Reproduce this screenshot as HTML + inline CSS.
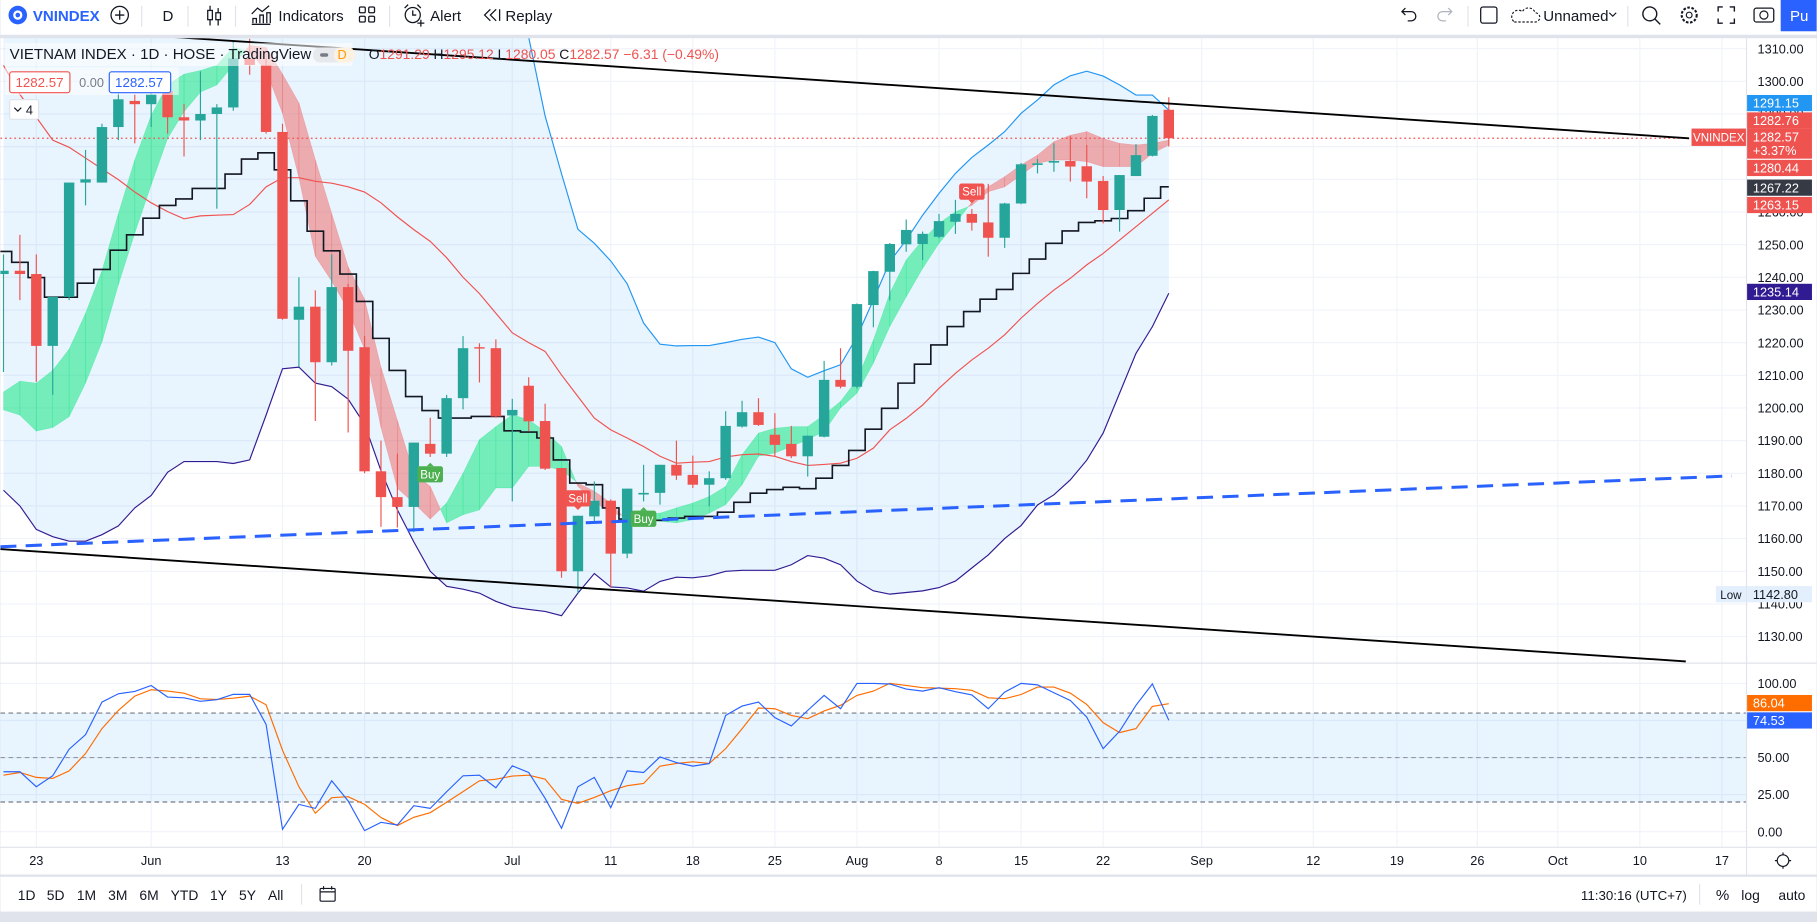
<!DOCTYPE html>
<html><head><meta charset="utf-8">
<style>
html,body{margin:0;padding:0;background:#e0e3eb;overflow:hidden}
svg{display:block;font-family:"Liberation Sans",sans-serif}
</style></head>
<body>
<svg id="root" width="1817" height="922" viewBox="0 0 1568 796" xmlns="http://www.w3.org/2000/svg">
<defs>
<clipPath id="mainClip"><rect x="0" y="33" width="1507" height="539"/></clipPath>
<clipPath id="stochClip"><rect x="0" y="573" width="1507" height="158"/></clipPath>
</defs>
<rect x="0" y="0" width="1568" height="796" fill="#e0e3eb"/>
<rect x="0" y="0" width="1568" height="30" fill="#ffffff"/>
<rect x="0" y="33" width="1568" height="722" fill="#ffffff"/>
<rect x="0" y="757" width="1568" height="30" fill="#ffffff"/>

<g><circle cx="15" cy="13" r="8" fill="#2962ff"/><circle cx="15" cy="13" r="4" fill="#fff"/><circle cx="15" cy="13" r="2" fill="#2962ff"/></g>
<text x="28" y="18" font-size="13" font-weight="bold" fill="#2962ff">VNINDEX</text>
<g><circle cx="103" cy="13" r="7.5" fill="none" stroke="#131722" stroke-width="1.1"/><path d="M99 13h8M103 9v8" stroke="#131722" stroke-width="1.1"/></g>
<line x1="122" y1="5" x2="122" y2="23" stroke="#e0e3eb"/>
<text x="140" y="18" font-size="13" fill="#131722">D</text>
<line x1="162" y1="5" x2="162" y2="23" stroke="#e0e3eb"/>
<g stroke="#131722" fill="none" stroke-width="1.1"><path d="M181 5v17M188 7v15"/><rect x="179" y="9" width="4" height="8" fill="#fff"/><rect x="186" y="11" width="4" height="6" fill="#fff"/></g>
<line x1="203" y1="5" x2="203" y2="23" stroke="#e0e3eb"/>
<g><path d="M217 21h16M218 20v-4h3v4M224 20v-7h3v7M230 20v-9h3v9M217 12l5-5 4 3 6-5" stroke="#131722" fill="none" stroke-width="1.1"/><text x="240" y="18" font-size="13" fill="#131722">Indicators</text></g>
<g stroke="#131722" fill="none" stroke-width="1.1"><rect x="310" y="6" width="5" height="5" rx="1"/><rect x="318" y="6" width="5" height="5" rx="1"/><rect x="310" y="14" width="5" height="5" rx="1"/><rect x="318" y="14" width="5" height="5" rx="1"/></g>
<line x1="336" y1="5" x2="336" y2="23" stroke="#e0e3eb"/>
<g><circle cx="356" cy="13" r="6.5" stroke="#131722" fill="none" stroke-width="1.1"/><path d="M356 9v4h3M349 7l3-3M363 7l-3-3M360 20h6M363 17v6" stroke="#131722" fill="none" stroke-width="1.1"/><text x="371" y="18" font-size="13" fill="#131722">Alert</text></g>
<g><path d="M423 8l-5 5 5 5M428 8l-5 5 5 5M431 8v10" stroke="#131722" fill="none" stroke-width="1.1"/><text x="436" y="18" font-size="13" fill="#131722">Replay</text></g>
<g><path d="M1210 10h8a4 4 0 0 1 0 8h-3M1213 7l-3 3 3 3" stroke="#131722" fill="none" stroke-width="1.1"/></g>
<g><path d="M1253 10h-8a4 4 0 0 0 0 8h3M1250 7l3 3-3 3" stroke="#b2b5be" fill="none" stroke-width="1.1"/></g>
<line x1="1267" y1="5" x2="1267" y2="23" stroke="#e0e3eb"/>
<rect x="1278" y="6" width="14" height="14" rx="2" fill="none" stroke="#131722" stroke-width="1.1"/>
<g><path d="M1307 19h18a4 4 0 0 0 0-8 6 6 0 0 0-11-1 4 4 0 0 0-7 9z" stroke="#131722" fill="none" stroke-width="1" stroke-dasharray="2 1.5"/><text x="1332" y="18" font-size="13" fill="#131722">Unnamed</text><path d="M1389 11l3 3 3-3" stroke="#131722" fill="none"/></g>
<line x1="1405" y1="5" x2="1405" y2="23" stroke="#e0e3eb"/>
<g><circle cx="1424" cy="12" r="6" fill="none" stroke="#131722" stroke-width="1.2"/><path d="M1428 16l5 5" stroke="#131722" stroke-width="1.2"/></g>
<g><circle cx="1458" cy="13" r="6.5" fill="none" stroke="#131722" stroke-width="1.8" stroke-dasharray="2.2 1.4"/><circle cx="1458" cy="13" r="2.5" fill="none" stroke="#131722"/></g>
<g><path d="M1483 10V6h4M1493 6h4v4M1497 16v4h-4M1487 20h-4v-4" stroke="#131722" fill="none" stroke-width="1.2"/></g>
<g><rect x="1514" y="7" width="17" height="12" rx="2" fill="none" stroke="#131722" stroke-width="1.1"/><circle cx="1522.5" cy="13" r="3.5" fill="none" stroke="#131722"/></g>
<g><rect x="1537" y="0" width="31" height="27" fill="#2962ff"/><text x="1545" y="18" font-size="13" fill="#fff">Pu</text></g>

<g id="grid"></g>
<g id="mainPane" clip-path="url(#mainClip)"></g>
<g id="stochPane" clip-path="url(#stochClip)"></g>
<line x1="0" y1="572.5" x2="1568" y2="572.5" stroke="#e0e3eb"/>
<line x1="1507.5" y1="33" x2="1507.5" y2="755" stroke="#e0e3eb"/>
<line x1="0" y1="731.5" x2="1568" y2="731.5" stroke="#e0e3eb"/>
<g id="axes"></g>

<g>
<rect x="4" y="37" width="300" height="20" fill="#ffffff" fill-opacity="0.55"/>
<text x="8" y="51" font-size="13" fill="#131722">VIETNAM INDEX · 1D · HOSE · TradingView</text>
<rect x="270" y="41" width="36" height="13" rx="6" fill="#e8e9ec"/>
<rect x="276" y="46" width="7" height="3" rx="1.5" fill="#787b86"/>
<rect x="288" y="41" width="18" height="13" rx="6" fill="#fdf1e1"/>
<text x="291" y="51" font-size="11" fill="#ff9800">D</text>
<text x="318" y="51" font-size="12" fill="#131722">O<tspan fill="#ef5350">1291.29</tspan> H<tspan fill="#ef5350">1295.12</tspan> L<tspan fill="#ef5350">1280.05</tspan> C<tspan fill="#ef5350">1282.57 −6.31 (−0.49%)</tspan></text>
<rect x="4" y="58" width="150" height="24" fill="#ffffff" fill-opacity="0.55"/>
<rect x="8" y="62" width="52" height="18" rx="2" fill="#fff" stroke="#ef5350"/>
<text x="13" y="75" font-size="11.5" fill="#ef5350">1282.57</text>
<text x="68" y="75" font-size="11" fill="#787b86">0.00</text>
<rect x="94" y="62" width="53" height="18" rx="2" fill="#fff" stroke="#2962ff"/>
<text x="99" y="75" font-size="11.5" fill="#2962ff">1282.57</text>
<rect x="8" y="86" width="25" height="17" rx="2" fill="#fff" stroke="#e0e3eb"/>
<path d="M12 93l3 3 3-3" stroke="#131722" fill="none"/>
<text x="22" y="99" font-size="11" fill="#131722">4</text>
</g>

<g font-size="12" fill="#131722">
<text x="15" y="777">1D</text>
<text x="40" y="777">5D</text>
<text x="66" y="777">1M</text>
<text x="93" y="777">3M</text>
<text x="120" y="777">6M</text>
<text x="147" y="777">YTD</text>
<text x="181" y="777">1Y</text>
<text x="206" y="777">5Y</text>
<text x="231" y="777">All</text>
</g>
<line x1="260" y1="763" x2="260" y2="781" stroke="#e0e3eb"/>
<g><rect x="276" y="767" width="13" height="11" rx="1" fill="none" stroke="#131722"/><path d="M276 770h13M279 765v3M286 765v3" stroke="#131722"/></g>
<text x="1456" y="777" font-size="11.5" fill="#131722" text-anchor="end">11:30:16 (UTC+7)</text>
<line x1="1467" y1="763" x2="1467" y2="781" stroke="#e0e3eb"/>
<text x="1481" y="777" font-size="13" fill="#131722">%</text>
<text x="1503" y="777" font-size="12" fill="#131722">log</text>
<text x="1535" y="777" font-size="12" fill="#131722">auto</text>
<g><circle cx="1539" cy="743" r="5" fill="none" stroke="#131722"/><path d="M1532 743h2M1544 743h2M1539 736v2M1539 748v2" stroke="#131722"/></g>

<script>
const firstIndex = -2;
const opens  = [1241,1242,1241,1219,1234,1269,1269,1286,1294,1293,1297,1289,1288,1290,1292,1307,1305,1284.5,1227,1231,1214,1237,1218.6,1180.6,1172.7,1169.7,1189,1186,1203,1218.6,1218.3,1197.7,1206.8,1196,1181.6,1150,1166.8,1171.6,1155.4,1173.5,1174,1182.6,1179.5,1176.5,1178.5,1194.3,1198.7,1191.8,1189,1185.2,1191.2,1208.6,1206.5,1231.5,1241.7,1250.1,1250.2,1252.4,1257,1259.4,1256.8,1252.1,1262.6,1274.4,1275.1,1275.6,1274,1269.5,1260.6,1271,1277.2,1291.29];
const highs  = [1247,1253,1247,1234,1269,1279,1287,1297,1296,1300,1298,1293,1303,1293,1312,1313,1307,1287,1240,1236,1247,1238,1222,1190,1186,1189.4,1197,1204,1222,1219.8,1221,1202.8,1209.4,1201.3,1181.6,1167,1177.5,1172,1175.3,1182.6,1182.6,1190,1185.4,1180.6,1199,1202.2,1203,1198.4,1194.5,1191.5,1214.4,1218.3,1232,1242,1250.5,1257.7,1254,1259.4,1263.7,1260.9,1268.6,1262.8,1275,1276.2,1281,1283.2,1280.5,1271,1271.3,1280.8,1289.7,1295.12];
const lows   = [1211,1233,1208,1204,1233,1262,1269,1282,1281,1286,1284,1277,1282,1261,1291,1302,1284,1227,1212.6,1196,1213,1192.5,1180,1163.6,1163.4,1162,1185,1185,1199.6,1207.8,1197,1171.4,1192.8,1181,1148,1143.3,1164.8,1145.2,1154,1171.4,1170.4,1178,1175.5,1169.9,1178,1194,1194.5,1185.2,1184.6,1179,1191,1206,1206,1224.7,1232.9,1247.8,1245.3,1252,1253.3,1254.3,1246.3,1249,1262.4,1271.8,1272.3,1269.3,1264.2,1256.5,1254,1271,1277,1280.05];
const closes = [1242,1241,1219,1234,1269,1270,1286,1294.5,1293,1296,1289,1288,1290,1292,1307,1305,1284.5,1227.3,1231,1214,1237,1217.5,1180.6,1172.7,1169.7,1189.4,1186,1203,1218.3,1218.2,1197.4,1199.4,1195.9,1181.4,1150,1167,1171.6,1155.4,1175.3,1174,1182.6,1179.3,1176.5,1178.5,1194.5,1198.7,1194.8,1188.7,1185.2,1191.5,1208.6,1206.5,1231.8,1241.9,1250.2,1254.5,1253.3,1257.2,1259.4,1256.7,1252.1,1262.6,1274.6,1274.9,1275.6,1273.9,1269.3,1260.6,1271.3,1277.4,1289.4,1282.57];
const bbUpper = [1330,1334,1338,1341,1343,1344,1345,1346,1347,1348,1349,1350,1351,1352,1353,1356,1360,1362,1364,1365,1366,1366,1365,1363,1360,1356,1351,1346,1341,1336,1332,1326,1313.5,1289.4,1271.7,1254.7,1250.4,1245,1238,1226,1219.5,1219,1219.1,1219.1,1220,1221,1221.7,1220,1212,1209.4,1211.4,1213.2,1221.8,1233.1,1244.8,1251.4,1259,1265.7,1271.8,1276.7,1280.5,1284.6,1290.2,1294.3,1298.9,1301.7,1303.1,1301.6,1298.9,1295.8,1295.8,1291.2];
const bbMiddle = [1304.9,1296,1289,1282,1279.8,1276.5,1273.2,1269.9,1266.1,1262.8,1260.1,1257.9,1258.8,1259,1259.2,1262.3,1267.7,1270.5,1270.5,1269.4,1268.8,1267.7,1266.1,1262.8,1258.5,1254.6,1251,1246,1240,1235,1229,1223,1220,1217.3,1210.1,1203.5,1196.9,1193.3,1190.8,1188.2,1185.2,1183.1,1183.4,1183.6,1185,1185.7,1185.9,1185.2,1183.6,1182.4,1182.7,1183.1,1184.6,1187.7,1193.3,1196.8,1200.9,1206,1210.6,1214.7,1218.3,1222.4,1227.5,1232,1236.1,1239.7,1243.8,1247.3,1251.4,1255.5,1259.6,1263.7];
const bbLower = [1174.8,1170,1162.8,1160.6,1159.2,1159.2,1161.2,1163.9,1169.4,1173.2,1180.3,1183.6,1183.6,1183.6,1183,1184.1,1197.8,1212,1212.5,1207.6,1206.5,1202.7,1195,1180.8,1168.8,1159,1150,1145.4,1144.5,1143.3,1140.8,1139,1138.3,1137.7,1136.4,1143.3,1149.3,1145.2,1144.9,1143.9,1146.9,1148.2,1148,1148.6,1150,1150.3,1150.3,1150.3,1152,1154.8,1154,1152,1147,1144,1143,1143.5,1144,1145,1147,1151,1155,1160,1164,1170.3,1173.4,1178,1184,1192.3,1204.5,1216.7,1224.9,1235.1];
const trailingStop = [1247.9,1244.6,1239.9,1233.9,1233.9,1238.2,1242.4,1248.3,1253,1258.1,1262,1264,1267.2,1267.2,1271.6,1276.2,1278.1,1272.9,1263.4,1254.1,1248.1,1241,1232.6,1221.3,1211.5,1203.5,1199.2,1196.9,1196.9,1197.4,1197.4,1193,1192.6,1190.8,1184.1,1177,1176.5,1169.4,1166,1166,1165.6,1166.3,1166.8,1166.8,1168.1,1171.1,1173.9,1175,1175.7,1175.3,1178.5,1182.4,1187,1193.5,1199.9,1207.6,1213.4,1219.3,1224.9,1229.5,1233.3,1236.3,1241.2,1245.6,1250.4,1254.2,1256.8,1257.3,1258,1260.4,1264.2,1267.7];
const ribbonFast = [1204.9,1208.2,1207.6,1211.5,1218,1229,1242,1259.5,1276,1289.6,1298.9,1302.2,1303.3,1304.9,1310.4,1309,1303.3,1290.2,1270.5,1246.4,1238.8,1230,1218,1194,1175.4,1170.9,1166,1170.9,1180,1190.3,1194.3,1197.9,1196.4,1192.8,1188.2,1176,1171.4,1167.8,1166.8,1167.3,1167.8,1169.4,1170.9,1172.9,1176,1185.7,1192.3,1193.8,1194.3,1194.3,1197.9,1202,1208.6,1220.8,1235.1,1245.3,1251.4,1256.5,1260.1,1262,1266.2,1267.7,1271.3,1274.9,1275.9,1275.9,1275.4,1273.9,1273.9,1273.9,1277.9,1280.5];
const ribbonSlow = [1199.4,1197.8,1192.9,1194,1197.3,1207.6,1220.2,1237.7,1253.5,1268.3,1282.5,1290.7,1296.7,1298.9,1304.9,1311,1310.4,1302.2,1293.4,1276,1259.5,1243.2,1233.3,1212.5,1196.2,1180,1176,1164.8,1167.3,1168.8,1175.5,1175.5,1182.1,1182.1,1181,1177,1174.5,1170.9,1165.3,1165.8,1165.3,1164.8,1165.8,1167.8,1170.4,1176.5,1185.2,1186.2,1188.2,1190.3,1192.8,1200,1204.5,1213.7,1224.9,1234,1242.7,1250.4,1256.5,1263,1267.7,1270.8,1274.4,1277.4,1281.5,1283.5,1284.6,1282.5,1281,1280.5,1281,1282];
const stochK = [40.4,40.4,30.3,37.7,55.6,65.4,87.4,93,94.6,98.6,90.8,90.3,87.9,89,92.6,92.6,72.3,1.6,18.4,15.7,34.3,20.7,0.7,6.3,4.5,17.5,15.7,26.9,37.7,38.1,29.6,44.4,39.9,22.5,2.3,30.3,36.6,16.2,41,39.9,50.4,46.6,44.2,45.9,78.4,84.7,87.4,76.9,71.3,81.8,91.9,82.9,100,100,99.6,96.2,94.8,97.1,94.4,92.2,82.9,94.1,100,99,93.7,88.5,77.3,56,67.7,85.2,99.7,75.1];
const stochD = [38.1,39.9,36.6,35.9,41,52.7,69.5,81.8,91.4,95.7,94.8,93.4,89.6,89.2,90,91.4,85.6,54.9,30.3,12.4,22.9,23.6,18.4,9.5,4.1,9.7,12.8,19.8,27,34.3,35.4,37.5,38.1,35.4,21.8,19.1,23.1,27.6,31,32.5,44.2,46,47.1,46,56,69.4,83.4,82.9,78.4,76.2,81.4,85.2,91.9,94.8,100,98.6,97.1,96.8,96.4,95.3,90.3,89.7,92.5,97.5,97.5,93.4,85.8,73.5,66.8,69.5,84.5,86.3];
const priceTicks = [1310,1300,1290,1280,1270,1260,1250,1240,1230,1220,1210,1200,1190,1180,1170,1160,1150,1140,1130];
const hiddenPriceTicks = [1270];
const stochTicks = [100,50,25,0];
const stochGrid = [100,75,50,25,0];
const stochLevels = [80,50,20];
const timeLabels = ["23","Jun","13","20","Jul","11","18","25","Aug","8","15","22","Sep","12","19","26","Oct","10","17"];
const timeIndex  = [0,7,15,20,29,35,40,45,50,55,60,65,71,77.8,82.9,87.8,92.7,97.7,102.7];
const lastPrice = 1282.57;
const upperTrend = [[-2.2,1317.1],[100.7,1282.55]];
const lowerTrend = [[-2.2,1156.8],[100.5,1122.4]];
const dashedTrend = [[-2.2,1157.5],[103.3,1179.2]];
const signalIndex = [24,33,37,57];
const signalText  = ["Buy","Sell","Buy","Sell"];

const NS = "http://www.w3.org/2000/svg";
const xS = i => 31 + 14.17 * i;
const yP = p => 42 + (1310 - p) * 2.82;
const yS = v => 718 - 1.28 * v;
const idx = k => k + firstIndex;
function mk(tag, attrs, parent) {
  const e = document.createElementNS(NS, tag);
  for (const a in attrs) e.setAttribute(a, attrs[a]);
  parent.appendChild(e);
  return e;
}
const grid = document.getElementById('grid');
const main = document.getElementById('mainPane');
const stoch = document.getElementById('stochPane');
const axes = document.getElementById('axes');

priceTicks.forEach(p => {
  const l = mk('line', {x1:0, x2:1507, y1:yP(p), y2:yP(p), stroke:'#f0f3fa'}, grid);
  
  
});
stochGrid.forEach(v => {
  const l = mk('line', {x1:0, x2:1507, y1:yS(v), y2:yS(v), stroke:'#f0f3fa'}, grid);
  
  
});
timeIndex.forEach(t => {
  const l = mk('line', {x1:xS(t), x2:xS(t), y1:33, y2:731, stroke:'#f0f3fa'}, grid);
  
  
});

let pts = [];
bbUpper.forEach((v,k) => pts.push(xS(idx(k)) + ',' + yP(v)));
for (let k = bbLower.length - 1; k >= 0; k--) pts.push(xS(idx(k)) + ',' + yP(bbLower[k]));
const bbFill = mk('polygon', {points:pts.join(' '), fill:'#2196f3', 'fill-opacity':'0.1'}, main);



function line(arr, color, name, w) {
  const p = arr.map((v,k) => xS(idx(k)) + ',' + yP(v)).join(' ');
  const e = mk('polyline', {points:p, fill:'none', stroke:color, 'stroke-width':w||1}, main);
  
  
}

for (let k = 0; k < ribbonFast.length - 1; k++) {
  const x1 = xS(idx(k)), x2 = xS(idx(k+1));
  const f1 = ribbonFast[k], f2 = ribbonFast[k+1], s1 = ribbonSlow[k], s2 = ribbonSlow[k+1];
  const a1 = f1 - s1, a2 = f2 - s2;
  const G = '#00e676', R = '#ef5350';
  const polys = [];
  if (a1 * a2 >= 0) {
    polys.push([[x1,f1],[x2,f2],[x2,s2],[x1,s1], (a1 + a2) >= 0 ? G : R]);
  } else {
    const t = a1 / (a1 - a2);
    const xm = x1 + t * (x2 - x1), pm = f1 + t * (f2 - f1);
    polys.push([[x1,f1],[xm,pm],[x1,s1], a1 > 0 ? G : R]);
    polys.push([[xm,pm],[x2,f2],[x2,s2], a2 > 0 ? G : R]);
  }
  polys.forEach(pl => {
    const col = pl.pop();
    const e = mk('polygon', {points:pl.map(q => q[0] + ',' + yP(q[1])).join(' '), fill:col, 'fill-opacity': col === G ? '0.5' : '0.45', stroke:col, 'stroke-opacity':'0.3', 'stroke-width':'0.5'}, main);
    
    
  });
}

line(bbUpper, '#2196f3', 'bollinger-upper');
line(bbLower, '#311b92', 'bollinger-lower');
line(bbMiddle, '#f05350', 'bollinger-basis');

let sp = [];
trailingStop.forEach((v,k) => {
  const x = xS(idx(k));
  const xa = x - 7.08;
  const xb = k === trailingStop.length - 1 ? x : x + 7.08;
  sp.push(xa + ',' + yP(v)); sp.push(xb + ',' + yP(v));
});
const stepEl = mk('polyline', {points:sp.join(' '), fill:'none', stroke:'#131722', 'stroke-width':1.4}, main);



const lp = mk('line', {x1:0, x2:1507, y1:yP(lastPrice), y2:yP(lastPrice), stroke:'#ef5350', 'stroke-dasharray':'1.5 2.5'}, main);



opens.forEach((o,k) => {
  const c = closes[k], h = highs[k], l = lows[k];
  const x = xS(idx(k));
  const col = c >= o ? '#26a69a' : '#ef5350';
  const g = mk('g', {}, main);
  
  
  mk('line', {x1:x, x2:x, y1:yP(h), y2:yP(l), stroke:col, 'stroke-width':1}, g);
  const top = yP(Math.max(o,c)), bot = yP(Math.min(o,c));
  mk('rect', {x:x - 4.5, y:top, width:9, height:Math.max(1.2, bot - top), fill:col}, g);
});

function tline(seg, color, w, dash, name) {
  const a = {x1:xS(seg[0][0]), y1:yP(seg[0][1]), x2:xS(seg[1][0]), y2:yP(seg[1][1]), stroke:color, 'stroke-width':w};
  if (dash) a['stroke-dasharray'] = dash;
  const e = mk('line', a, main);
  
  
}
tline(upperTrend, '#000', 1.6, null, 'upper-trendline');
tline(lowerTrend, '#000', 1.6, null, 'lower-trendline');
tline(dashedTrend, '#2962ff', 2.6, '14 8', 'dashed-trendline');

signalIndex.forEach((si,n) => {
  const k = si - firstIndex;
  const isBuy = signalText[n] === 'Buy';
  const x = xS(si);
  const col = isBuy ? '#4caf50' : '#f05350';
  const y = isBuy ? yP(lows[k]) + 8 : yP(highs[k]) - 22;
  const g = mk('g', {}, main);
  
  
  mk('rect', {x:x - 11, y:y, width:22, height:14, rx:2, fill:col}, g);
  if (isBuy) mk('path', {d:`M${x-3} ${y} l3 -3 l3 3z`, fill:col}, g);
  else mk('path', {d:`M${x-3} ${y+14} l3 3 l3 -3z`, fill:col}, g);
  const t = mk('text', {x:x, y:y + 10.5, 'font-size':10, fill:'#fff', 'text-anchor':'middle'}, g);
  t.textContent = signalText[n];
});

const band = mk('rect', {x:0, y:yS(stochLevels[0]), width:1507, height:yS(stochLevels[2]) - yS(stochLevels[0]), fill:'#2196f3', 'fill-opacity':'0.1'}, stoch);


stochLevels.forEach((v,n) => {
  const e = mk('line', {x1:0, x2:1507, y1:yS(v), y2:yS(v), stroke:n === 1 ? '#9598a1' : '#787b86', 'stroke-dasharray':'4 3'}, stoch);
  
  
});
function sline(arr, color, name) {
  const p = arr.map((v,k) => xS(idx(k)) + ',' + yS(v)).join(' ');
  const e = mk('polyline', {points:p, fill:'none', stroke:color, 'stroke-width':1}, stoch);
  
  
}
sline(stochD, '#ff6d00', 'stoch-d-line');
sline(stochK, '#2962ff', 'stoch-k-line');

priceTicks.forEach(p => {
  if (hiddenPriceTicks.includes(p)) return;
  const t = mk('text', {x:1517, y:yP(p) + 4, 'font-size':11, fill:'#131722'}, axes);
  
  
  t.textContent = p.toFixed(2);
});
stochTicks.forEach(v => {
  const t = mk('text', {x:1517, y:yS(v) + 4, 'font-size':11, fill:'#131722'}, axes);
  
  
  t.textContent = v.toFixed(2);
});
timeLabels.forEach((s,n) => {
  const t = mk('text', {x:xS(timeIndex[n]), y:747, 'font-size':11, fill:'#131722', 'text-anchor':'middle'}, axes);
  
  
  t.textContent = s;
});

function tag(y, h, color, txt, name, txtColor) {
  const g = mk('g', {}, axes);
  
  
  mk('rect', {x:1508, y:y, width:56, height:h, fill:color}, g);
  txt.forEach((s,n) => {
    const t = mk('text', {x:1513, y:y + 11 + n * 12, 'font-size':11, fill:txtColor || '#fff'}, g);
    t.textContent = s;
  });
}
tag(82, 14, '#2196f3', ['1291.15'], 'bb-upper-tag');
tag(97, 14, '#ef5350', ['1282.76'], 'ribbon-slow-tag');
tag(111, 26, '#ef5350', ['1282.57','+3.37%'], 'last-price-tag');
tag(138, 14, '#ef5350', ['1280.44'], 'ribbon-fast-tag');
tag(155, 14, '#363a45', ['1267.22'], 'trailing-stop-tag');
tag(170, 14, '#ef5350', ['1263.15'], 'bb-basis-tag');
tag(245, 14, '#311b92', ['1235.14'], 'bb-lower-tag');
tag(506, 14, '#e3effd', ['1142.80'], 'low-price-tag', '#131722');
tag(600, 14, '#ff6d00', ['86.04'], 'stoch-d-tag');
tag(615, 14, '#2962ff', ['74.53'], 'stoch-k-tag');
const sym = mk('g', {}, axes);


mk('rect', {x:1460, y:111, width:47, height:15, fill:'#ef5350'}, sym);
const st = mk('text', {x:1483.5, y:122, 'font-size':10, fill:'#fff', 'text-anchor':'middle'}, sym);
st.textContent = 'VNINDEX';
const low = mk('g', {}, axes);


mk('rect', {x:1481, y:506, width:26, height:14, fill:'#e3effd'}, low);
const lt = mk('text', {x:1494, y:517, 'font-size':10, fill:'#131722', 'text-anchor':'middle'}, low);
lt.textContent = 'Low';
</script>
</svg>
</body></html>
